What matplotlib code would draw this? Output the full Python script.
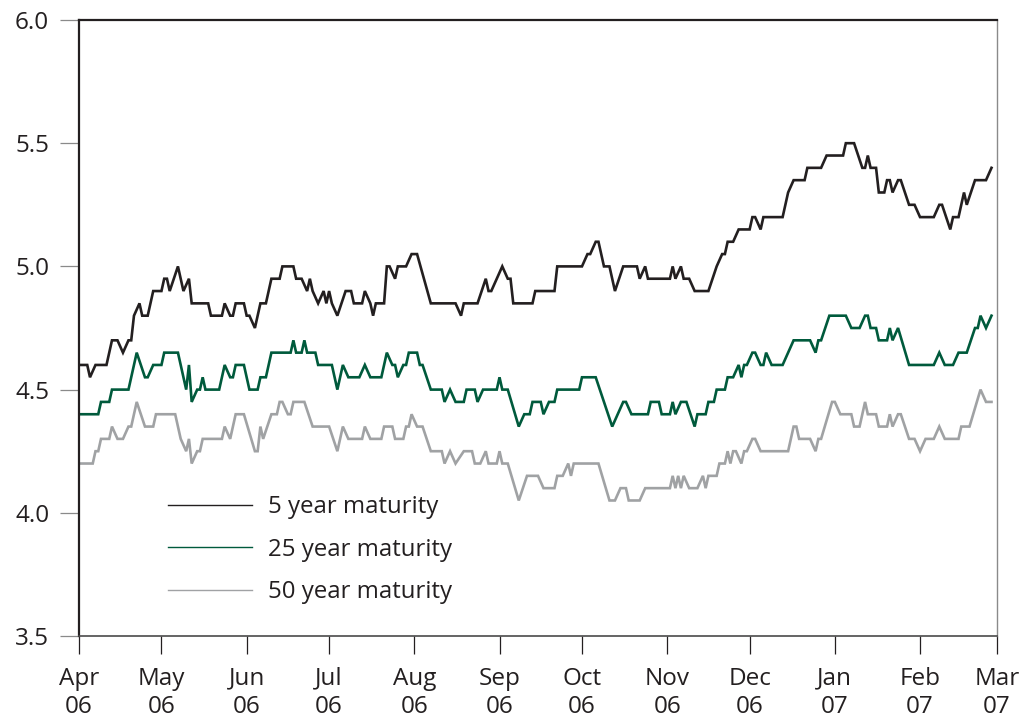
import numpy as np
import matplotlib
matplotlib.use("Agg")
import matplotlib.pyplot as plt

plt.rcParams['font.family'] = ['Open Sans', 'DejaVu Sans']

# ---- data: vertices as (days since 2006-04-01, yield %) ----
start = np.datetime64('2006-04-01')

y5_days = [0, 3, 4, 6, 10, 12, 14, 16, 18, 19, 20, 22, 23, 25, 27, 30, 31, 32, 33, 36,
           38, 40, 41, 47, 48, 52, 53, 55, 56, 57, 60, 61, 62, 64, 66, 68, 70, 73, 74, 78,
           79, 81, 83, 84, 85, 87, 89, 90, 91, 92, 94, 97, 99, 100, 103, 104, 106, 107, 108, 111,
           112, 113, 115, 116, 119, 121, 123, 128, 137, 139, 140, 145, 148, 149, 150, 154, 156, 157, 158, 165,
           166, 173, 174, 183, 185, 186, 188, 189, 191, 193, 195, 198, 203, 204, 206, 207, 215, 216, 217, 219,
           220, 222, 224, 229, 232, 234, 235, 236, 238, 240, 244, 245, 246, 248, 249, 256, 257, 258, 260, 264,
           265, 270, 272, 278, 279, 282, 285, 286, 287, 288, 290, 291, 293, 294, 295, 296, 298, 299, 302, 304,
           306, 311, 313, 314, 317, 318, 320, 322, 323, 326, 330, 332]
y5_vals = [4.60, 4.60, 4.55, 4.60, 4.60, 4.70, 4.70, 4.65, 4.70, 4.70, 4.80, 4.85, 4.80, 4.80, 4.90, 4.90, 4.95, 4.95, 4.90, 5.00,
           4.90, 4.95, 4.85, 4.85, 4.80, 4.80, 4.85, 4.80, 4.80, 4.85, 4.85, 4.80, 4.80, 4.75, 4.85, 4.85, 4.95, 4.95, 5.00, 5.00,
           4.95, 4.95, 4.90, 4.95, 4.90, 4.85, 4.90, 4.85, 4.90, 4.85, 4.80, 4.90, 4.90, 4.85, 4.85, 4.90, 4.85, 4.80, 4.85, 4.85,
           5.00, 5.00, 4.95, 5.00, 5.00, 5.05, 5.05, 4.85, 4.85, 4.80, 4.85, 4.85, 4.95, 4.90, 4.90, 5.00, 4.95, 4.95, 4.85, 4.85,
           4.90, 4.90, 5.00, 5.00, 5.05, 5.05, 5.10, 5.10, 5.00, 5.00, 4.90, 5.00, 5.00, 4.95, 5.00, 4.95, 4.95, 5.00, 4.95, 5.00,
           4.95, 4.95, 4.90, 4.90, 5.00, 5.05, 5.05, 5.10, 5.10, 5.15, 5.15, 5.20, 5.20, 5.15, 5.20, 5.20, 5.25, 5.30, 5.35, 5.35,
           5.40, 5.40, 5.45, 5.45, 5.50, 5.50, 5.40, 5.40, 5.45, 5.40, 5.40, 5.30, 5.30, 5.35, 5.35, 5.30, 5.35, 5.35, 5.25, 5.25,
           5.20, 5.20, 5.25, 5.25, 5.15, 5.20, 5.20, 5.30, 5.25, 5.35, 5.35, 5.40]

y25_days = [0, 7, 8, 11, 12, 18, 19, 21, 24, 25, 27, 30, 31, 36, 37, 39, 40, 41, 43, 44,
            45, 46, 51, 53, 55, 56, 57, 60, 62, 65, 66, 68, 70, 77, 78, 79, 81, 82, 83, 86,
            87, 92, 94, 96, 98, 102, 104, 106, 110, 112, 114, 115, 116, 118, 119, 120, 123, 124, 125, 128,
            132, 133, 135, 137, 140, 141, 144, 145, 147, 152, 153, 154, 156, 160, 162, 164, 165, 168, 169, 171,
            173, 174, 182, 183, 188, 194, 198, 199, 201, 207, 208, 211, 212, 215, 216, 217, 219, 221, 224, 225,
            228, 229, 231, 232, 235, 236, 238, 240, 241, 242, 243, 245, 246, 248, 249, 250, 252, 256, 258, 260,
            266, 268, 269, 270, 273, 279, 281, 284, 286, 287, 288, 290, 291, 294, 295, 296, 298, 302, 311, 313,
            315, 318, 320, 323, 326, 327, 328, 330, 332]
y25_vals = [4.40, 4.40, 4.45, 4.45, 4.50, 4.50, 4.55, 4.65, 4.55, 4.55, 4.60, 4.60, 4.65, 4.65, 4.60, 4.50, 4.60, 4.45, 4.50, 4.50,
            4.55, 4.50, 4.50, 4.60, 4.55, 4.55, 4.60, 4.60, 4.50, 4.50, 4.55, 4.55, 4.65, 4.65, 4.70, 4.65, 4.65, 4.70, 4.65, 4.65,
            4.60, 4.60, 4.50, 4.60, 4.55, 4.55, 4.60, 4.55, 4.55, 4.65, 4.60, 4.60, 4.55, 4.60, 4.60, 4.65, 4.65, 4.60, 4.60, 4.50,
            4.50, 4.45, 4.50, 4.45, 4.45, 4.50, 4.50, 4.45, 4.50, 4.50, 4.55, 4.50, 4.50, 4.35, 4.40, 4.40, 4.45, 4.45, 4.40, 4.45,
            4.45, 4.50, 4.50, 4.55, 4.55, 4.35, 4.45, 4.45, 4.40, 4.40, 4.45, 4.45, 4.40, 4.40, 4.45, 4.40, 4.45, 4.45, 4.35, 4.40,
            4.40, 4.45, 4.45, 4.50, 4.50, 4.55, 4.55, 4.60, 4.55, 4.60, 4.60, 4.65, 4.65, 4.60, 4.60, 4.65, 4.60, 4.60, 4.65, 4.70,
            4.70, 4.65, 4.70, 4.70, 4.80, 4.80, 4.75, 4.75, 4.80, 4.80, 4.75, 4.75, 4.70, 4.70, 4.75, 4.70, 4.75, 4.60, 4.60, 4.65,
            4.60, 4.60, 4.65, 4.65, 4.75, 4.75, 4.80, 4.75, 4.80]

y50_days = [0, 5, 6, 7, 8, 11, 12, 14, 16, 18, 19, 21, 24, 27, 28, 35, 37, 39, 40, 41,
            43, 44, 45, 52, 53, 55, 57, 60, 64, 65, 66, 67, 70, 72, 73, 74, 76, 77, 78, 82,
            85, 91, 94, 96, 98, 103, 104, 106, 110, 111, 114, 115, 118, 119, 120, 121, 123, 125, 128, 132,
            133, 135, 137, 140, 143, 144, 146, 148, 149, 152, 153, 154, 156, 160, 163, 167, 169, 173, 174, 176,
            178, 179, 180, 189, 193, 195, 197, 199, 200, 204, 206, 215, 216, 217, 218, 219, 220, 222, 225, 227,
            228, 229, 232, 233, 235, 236, 237, 238, 239, 241, 242, 243, 245, 246, 248, 258, 260, 261, 262, 266,
            268, 269, 270, 274, 275, 277, 281, 282, 284, 286, 287, 290, 291, 294, 295, 296, 298, 299, 302, 304,
            306, 308, 311, 313, 315, 320, 321, 324, 328, 330, 332]
y50_vals = [4.20, 4.20, 4.25, 4.25, 4.30, 4.30, 4.35, 4.30, 4.30, 4.35, 4.35, 4.45, 4.35, 4.35, 4.40, 4.40, 4.30, 4.25, 4.30, 4.20,
            4.25, 4.25, 4.30, 4.30, 4.35, 4.30, 4.40, 4.40, 4.25, 4.25, 4.35, 4.30, 4.40, 4.40, 4.45, 4.45, 4.40, 4.40, 4.45, 4.45,
            4.35, 4.35, 4.25, 4.35, 4.30, 4.30, 4.35, 4.30, 4.30, 4.35, 4.35, 4.30, 4.30, 4.35, 4.35, 4.40, 4.35, 4.35, 4.25, 4.25,
            4.20, 4.25, 4.20, 4.25, 4.25, 4.20, 4.20, 4.25, 4.20, 4.20, 4.25, 4.20, 4.20, 4.05, 4.15, 4.15, 4.10, 4.10, 4.15, 4.15,
            4.20, 4.15, 4.20, 4.20, 4.05, 4.05, 4.10, 4.10, 4.05, 4.05, 4.10, 4.10, 4.15, 4.10, 4.15, 4.10, 4.15, 4.10, 4.10, 4.15,
            4.10, 4.15, 4.15, 4.20, 4.20, 4.25, 4.20, 4.25, 4.25, 4.20, 4.25, 4.25, 4.30, 4.30, 4.25, 4.25, 4.35, 4.35, 4.30, 4.30,
            4.25, 4.30, 4.30, 4.45, 4.45, 4.40, 4.40, 4.35, 4.35, 4.45, 4.40, 4.40, 4.35, 4.35, 4.40, 4.35, 4.40, 4.40, 4.30, 4.30,
            4.25, 4.30, 4.30, 4.35, 4.30, 4.30, 4.35, 4.35, 4.50, 4.45, 4.45]

series_labels = ['5 year maturity', '25 year maturity', '50 year maturity']
series_colors = ['#231f20', '#005a3c', '#a0a2a4']
month_ticks = ['2006-04-01', '2006-05-01', '2006-06-01', '2006-07-01', '2006-08-01', '2006-09-01',
               '2006-10-01', '2006-11-01', '2006-12-01', '2007-01-01', '2007-02-01', '2007-03-01']
y_ticks = [3.5, 4.0, 4.5, 5.0, 5.5, 6.0]

text_color = '#231f20'

fig = plt.figure(figsize=(10.22, 7.24), dpi=100)
ax = fig.add_axes([79 / 1022, 88 / 724, 918 / 1022, 616 / 724])

for days, vals, lab, col in zip([y5_days, y25_days, y50_days],
                                [y5_vals, y25_vals, y50_vals],
                                series_labels, series_colors):
    dates = start + np.array(days, dtype='timedelta64[D]')
    ax.plot(dates.astype('datetime64[ms]').astype(object), vals, color=col, lw=1.9,
            solid_joinstyle='miter', label=lab)

ax.set_xlim(np.datetime64('2006-04-01').astype(object), np.datetime64('2007-03-01').astype(object))
ax.set_ylim(3.5, 6.0)

tick_dates = [np.datetime64(d).astype(object) for d in month_ticks]
ax.set_xticks(tick_dates)
ax.set_xticklabels([np.datetime64(d).astype(object).strftime('%b\n%y') for d in month_ticks])
ax.set_yticks(y_ticks)
ax.set_yticklabels([f'{v:.1f}' for v in y_ticks])

ax.tick_params(axis='x', direction='out', length=13, width=0.9, color=text_color,
               labelsize=17.5, labelcolor=text_color, pad=9)
ax.tick_params(axis='y', direction='out', length=13.5, width=0.9, color='#8a8a8a',
               labelsize=17.5, labelcolor=text_color, pad=8)
for lbl in ax.get_xticklabels():
    lbl.set_linespacing(1.25)

for side in ['left', 'top']:
    ax.spines[side].set_color(text_color)
    ax.spines[side].set_linewidth(1.6)
ax.spines['bottom'].set_color('#4a4a4a')
ax.spines['bottom'].set_linewidth(1.2)
ax.spines['right'].set_color('#8a8a8a')
ax.spines['right'].set_linewidth(1.0)

leg = ax.legend(loc='upper left', bbox_to_anchor=((168 - 79) / 918, (636 - 495) / 616),
                frameon=False, fontsize=17.3, handlelength=3.5, handletextpad=0.67,
                labelspacing=0.77, borderpad=0, borderaxespad=0)
for h in leg.get_lines():
    h.set_linewidth(1.0)
for t in leg.get_texts():
    t.set_color(text_color)

fig.savefig('out.png', dpi=100)
